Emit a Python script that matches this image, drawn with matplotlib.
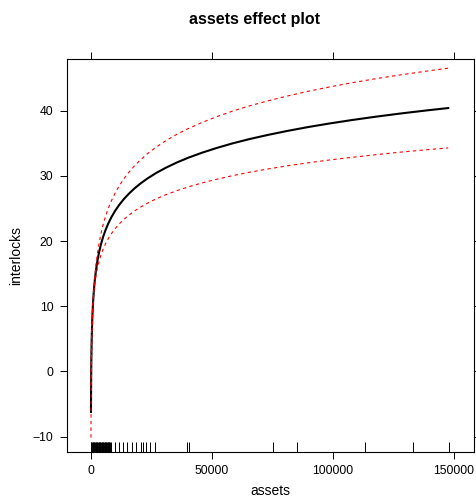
import matplotlib
matplotlib.use("Agg")
import matplotlib.pyplot as plt
import matplotlib.transforms as mtransforms

plt.rcParams["font.family"] = ["Liberation Sans", "DejaVu Sans"]

# effect values
assets = [52, 80, 130, 200, 300, 450, 650, 900, 1200, 1600, 2100, 2700, 3400,
          4200, 5100, 6100, 7200, 8500, 10000, 11700, 13600, 15700, 18000, 20500,
          23500, 27000, 31000, 35500, 40500, 46000, 52000, 58500, 65500, 73000,
          81000, 89500, 98500, 108000, 118000, 128500, 139500, 147600]
fit = [-6.20, -3.67, -0.82, 1.70, 4.08, 6.45, 8.61, 10.51, 12.20, 13.89, 15.48,
       16.95, 18.30, 19.54, 20.68, 21.73, 22.70, 23.67, 24.62, 25.54, 26.43, 27.26,
       28.07, 28.83, 29.63, 30.45, 31.25, 32.05, 32.82, 33.56, 34.28, 34.98, 35.64,
       36.27, 36.88, 37.47, 38.03, 38.57, 39.09, 39.59, 40.07, 40.40]
lower = [-10.13, -7.06, -3.60, -0.54, 2.34, 5.21, 7.81, 10.06, 11.89, 13.38, 14.68,
         15.85, 16.91, 17.89, 18.79, 19.62, 20.38, 21.15, 21.89, 22.62, 23.32, 23.97,
         24.61, 25.20, 25.83, 26.48, 27.10, 27.73, 28.34, 28.92, 29.48, 30.03, 30.55,
         31.05, 31.53, 31.99, 32.43, 32.85, 33.26, 33.66, 34.03, 34.29]
upper = [-2.27, -0.28, 1.96, 3.94, 5.82, 7.69, 9.41, 10.96, 12.51, 14.40, 16.28,
         18.05, 19.69, 21.19, 22.57, 23.84, 25.02, 26.19, 27.35, 28.46, 29.54, 30.55,
         31.53, 32.46, 33.43, 34.42, 35.40, 36.37, 37.30, 38.20, 39.08, 39.93, 40.73,
         41.49, 42.23, 42.95, 43.63, 44.29, 44.92, 45.52, 46.11, 46.51]

# observed assets for the rug
rug = [62, 250, 480, 700, 950, 1200, 1450, 1700, 1950, 2200, 2450, 2700, 2950,
       3200, 3450, 3700, 3950, 4200, 4450, 4700, 4950, 5200, 5450, 5700, 5950,
       6200, 6450, 6700, 6950, 7200, 7450, 7700, 7900, 8150, 9800, 11600, 13400,
       15000, 17100, 18500, 20600, 21500, 22900, 24300, 26500, 39900, 40600,
       75400, 85200, 113200, 133100, 147900]

fig = plt.figure(figsize=(4.76, 4.97), dpi=100)
ax = fig.add_axes([0.140, 0.0905, 0.856, 0.7905])

ax.plot(assets, fit, color="black", lw=1.5)
ax.plot(assets, lower, color="red", lw=0.8, dashes=(3, 3))
ax.plot(assets, upper, color="red", lw=0.8, dashes=(3, 3))

trans = mtransforms.blended_transform_factory(ax.transData, ax.transAxes)
ax.vlines(rug, 0, 0.025, transform=trans, color="black", lw=0.7)

ax.set_xlim(-10000, 158300)
ax.set_ylim(-12.35, 47.9)
ax.set_xticks([0, 50000, 100000, 150000])
ax.set_yticks([-10, 0, 10, 20, 30, 40])
ax.tick_params(direction="out", length=5, width=0.7, pad=4.5, labelsize=8.8,
               top=True, right=True, color="black")
for s in ax.spines.values():
    s.set_linewidth(0.8)

ax.set_xlabel("assets", fontsize=10, labelpad=5)
ax.set_ylabel("interlocks", fontsize=10, labelpad=7)
fig.text(0.534, 0.960, "assets effect plot", ha="center", va="center",
         fontsize=11.5, fontweight="bold")

fig.savefig("out.png", dpi=100)
